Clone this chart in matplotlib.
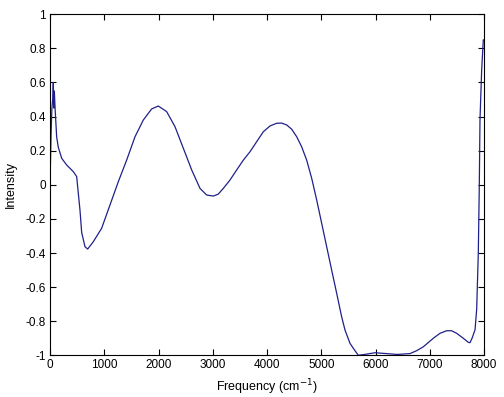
import numpy as np
import matplotlib
matplotlib.use('Agg')
import matplotlib.pyplot as plt

# values
freq = [0, 20, 35, 50, 61, 70, 80, 95, 123, 153, 216, 308, 430, 492, 522, 553,
        584, 645, 694, 798, 952, 1106, 1259, 1413, 1567, 1720, 1874, 1997, 2151,
        2304, 2458, 2612, 2765, 2888, 3011, 3100, 3195, 3318, 3441, 3564, 3687,
        3810, 3932, 4055, 4178, 4270, 4363, 4455, 4547, 4639, 4731, 4824, 4916,
        5008, 5100, 5192, 5284, 5376, 5438, 5530, 5591, 5683, 5800, 5991, 6200,
        6400, 6636, 6759, 6882, 7066, 7189, 7312, 7404, 7496, 7618, 7711, 7742,
        7780, 7835, 7865, 7895, 7913, 7926, 7957, 7987, 8000]
intensity = [0.0, 0.30, 0.45, 0.50, 0.60, 0.45, 0.55, 0.44, 0.28, 0.22, 0.155,
             0.116, 0.077, 0.048, -0.05, -0.15, -0.28, -0.363, -0.377, -0.334,
             -0.255, -0.118, 0.018, 0.145, 0.282, 0.380, 0.445, 0.462, 0.429,
             0.341, 0.214, 0.087, -0.021, -0.06, -0.066, -0.055, -0.021, 0.028,
             0.087, 0.145, 0.194, 0.253, 0.311, 0.345, 0.361, 0.362, 0.351,
             0.326, 0.282, 0.223, 0.145, 0.038, -0.089, -0.226, -0.363, -0.50,
             -0.636, -0.774, -0.852, -0.93, -0.959, -1.0, -0.995, -0.985, -0.99,
             -0.995, -0.99, -0.973, -0.95, -0.90, -0.871, -0.856, -0.856, -0.871,
             -0.90, -0.924, -0.926, -0.90, -0.85, -0.73, -0.40, -0.011, 0.38,
             0.673, 0.85, 0.85]

xticks = [0, 1000, 2000, 3000, 4000, 5000, 6000, 7000, 8000]
yticks = [-1, -0.8, -0.6, -0.4, -0.2, 0, 0.2, 0.4, 0.6, 0.8, 1]
ytick_labels = ['-1', '-0.8', '-0.6', '-0.4', '-0.2', '0', '0.2', '0.4', '0.6', '0.8', '1']

plt.rcParams['font.family'] = ['Liberation Sans Narrow', 'Liberation Sans', 'DejaVu Sans']

fig = plt.figure(figsize=(5.04, 3.97), dpi=100)
ax = fig.add_axes([50/504, 1 - 355.3/397, 434/504, 341/397])

ax.plot(freq, intensity, color='#20208a', linewidth=0.9)

ax.set_xlim(0, 8000)
ax.set_ylim(-1, 1)
ax.set_xticks(xticks)
ax.set_xticklabels([str(t) for t in xticks])
ax.set_yticks(yticks)
ax.set_yticklabels(ytick_labels)
ax.tick_params(direction='in', top=True, right=True, length=4, width=0.8,
               labelsize=8.5, pad=3)
for s in ax.spines.values():
    s.set_linewidth(0.8)

ax.set_xlabel('Frequency (cm$^{-1}$)', fontsize=9, family='Liberation Sans', labelpad=4)
ax.set_ylabel('Intensity', fontsize=9, family='Liberation Sans', labelpad=6)

fig.savefig('out.png', dpi=100)
